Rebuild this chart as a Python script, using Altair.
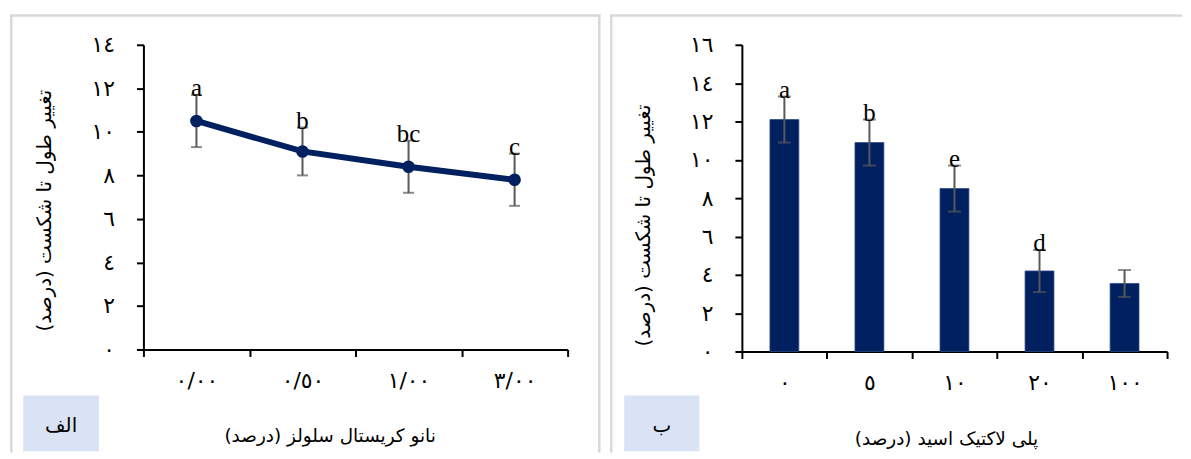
import altair as alt
import pandas as pd

# ---------------- data ----------------
LEFT_CATS = ["٠/٠٠", "٠/٥٠", "١/٠٠", "٣/٠٠"]
LEFT_VALS = [10.5, 9.1, 8.4, 7.8]
LEFT_ERR = [1.2, 1.1, 1.2, 1.2]
LEFT_LETTERS = ["a", "b", "bc", "c"]
LEFT_Y_TICKS = [0, 2, 4, 6, 8, 10, 12, 14]
LEFT_Y_LABELS = ["٠", "٢", "٤", "٦", "٨", "١٠", "١٢", "١٤"]

RIGHT_CATS = ["٠", "٥", "١٠", "٢٠", "١٠٠"]
RIGHT_VALS = [12.1, 10.9, 8.5, 4.2, 3.55]
RIGHT_ERR = [1.2, 1.2, 1.2, 1.1, 0.7]
RIGHT_LETTERS = ["a", "b", "e", "d", ""]
RIGHT_Y_TICKS = [0, 2, 4, 6, 8, 10, 12, 14, 16]
RIGHT_Y_LABELS = ["٠", "٢", "٤", "٦", "٨", "١٠", "١٢", "١٤", "١٦"]

Y_TITLE = "تغییر طول تا شکست (درصد)"
LEFT_X_TITLE = "نانو کریستال سلولز (درصد)"
RIGHT_X_TITLE = "پلی لاکتیک اسید (درصد)"
LEFT_TAG = "الف"
RIGHT_TAG = "ب"

# ---------------- styles ----------------
DARK = "#002060"
ERRC = "#595959"
FRAME = "#d9d9d9"
BOXC = "#dae3f3"
AR_FONT = "DejaVu Sans"
SERIF = "Liberation Serif"

W1, H1 = 426, 306
W2, H2 = 427, 308


def frame(df_one, x_left, x_right, y_top, y_bottom, right_line=True):
    parts = [
        alt.Chart(df_one).mark_rule(color=FRAME, strokeWidth=2.5, strokeCap="square").encode(
            x=alt.value(x_left), x2=alt.value(x_right), y=alt.value(y_top)),
        alt.Chart(df_one).mark_rule(color=FRAME, strokeWidth=2.5, strokeCap="square").encode(
            x=alt.value(x_left), y=alt.value(y_top), y2=alt.value(y_bottom)),
    ]
    if right_line:
        parts.append(
            alt.Chart(df_one).mark_rule(color=FRAME, strokeWidth=2.5, strokeCap="square").encode(
                x=alt.value(x_right), y=alt.value(y_top), y2=alt.value(y_bottom)))
    return parts


def tag(df_one, x0, x1, y0, y1, text):
    box = alt.Chart(df_one).mark_rect(color=BOXC).encode(
        x=alt.value(x0), x2=alt.value(x1), y=alt.value(y0), y2=alt.value(y1))
    txt = alt.Chart(df_one).mark_text(font=AR_FONT, fontSize=20, color="black",
                                      baseline="middle", align="center").encode(
        x=alt.value((x0 + x1) / 2), y=alt.value((y0 + y1) / 2 + 3), text=alt.value(text))
    return [box, txt]


def label_expr(ticks, labels):
    t = "[" + ",".join(str(v) for v in ticks) + "]"
    l = "[" + ",".join("'" + s + "'" for s in labels) + "]"
    return f"{l}[indexof({t}, datum.value)]"


one = pd.DataFrame({"k": [0]})

# ---------------- left panel ----------------
ldf = pd.DataFrame({
    "cat": LEFT_CATS,
    "val": LEFT_VALS,
    "lo": [v - e for v, e in zip(LEFT_VALS, LEFT_ERR)],
    "hi": [v + e for v, e in zip(LEFT_VALS, LEFT_ERR)],
    "letter": LEFT_LETTERS,
})

lx_axis = alt.Axis(title=LEFT_X_TITLE, labelAngle=0, tickBand="extent",
                   titleX=187, titleY=86, titleBaseline="middle", labelPadding=14)
lx_scale = alt.Scale(paddingInner=0, paddingOuter=0)
ly_axis = alt.Axis(title=Y_TITLE, values=LEFT_Y_TICKS, labelOverlap=False,
                   labelExpr=label_expr(LEFT_Y_TICKS, LEFT_Y_LABELS),
                   titleX=-99, titleY=166, titleBaseline="middle", labelPadding=22)
ly_scale = alt.Scale(domain=[0, 14], nice=False)


def LX():
    return alt.X("cat:N", sort=None, scale=lx_scale, axis=lx_axis)


def LY(f):
    return alt.Y(f"{f}:Q", scale=ly_scale, axis=ly_axis)


lbase = alt.Chart(ldf)
l_line = lbase.mark_line(color=DARK, strokeWidth=6).encode(x=LX(), y=LY("val"))
l_err = lbase.mark_rule(color=ERRC, strokeWidth=2).encode(x=LX(), y=LY("lo"), y2="hi:Q")
l_cap_lo = lbase.mark_tick(color=ERRC, thickness=2, size=11).encode(x=LX(), y=LY("lo"))
l_cap_hi = lbase.mark_tick(color=ERRC, thickness=2, size=11).encode(x=LX(), y=LY("hi"))
l_pts = lbase.mark_circle(color=DARK, size=160, opacity=1).encode(x=LX(), y=LY("val"))
l_txt = lbase.mark_text(font=SERIF, fontSize=25, baseline="alphabetic", dy=1.5,
                        color="black").encode(x=LX(), y=LY("hi"), text="letter:N")

left = alt.layer(
    *frame(one, -132.7, 457.8, -29.3, 408.3),
    *tag(one, -120.7, -44.7, 352.3, 408.3, LEFT_TAG),
    l_line, l_err, l_cap_lo, l_cap_hi, l_pts, l_txt,
).properties(width=W1, height=H1)

# ---------------- right panel ----------------
rdf = pd.DataFrame({
    "cat": RIGHT_CATS,
    "val": RIGHT_VALS,
    "lo": [v - e for v, e in zip(RIGHT_VALS, RIGHT_ERR)],
    "hi": [v + e for v, e in zip(RIGHT_VALS, RIGHT_ERR)],
    "letter": RIGHT_LETTERS,
})

rx_axis = alt.Axis(title=RIGHT_X_TITLE, labelAngle=0, tickBand="extent",
                   titleX=205, titleY=87, titleBaseline="middle", labelPadding=14)
rx_scale = alt.Scale(paddingInner=0, paddingOuter=0)
ry_axis = alt.Axis(title=Y_TITLE, values=RIGHT_Y_TICKS, labelOverlap=False,
                   labelExpr=label_expr(RIGHT_Y_TICKS, RIGHT_Y_LABELS),
                   titleX=-99, titleY=181, titleBaseline="middle", labelPadding=22)
ry_scale = alt.Scale(domain=[0, 16], nice=False)


def RX():
    return alt.X("cat:N", sort=None, scale=rx_scale, axis=rx_axis)


def RY(f):
    return alt.Y(f"{f}:Q", scale=ry_scale, axis=ry_axis)


rbase = alt.Chart(rdf)
r_bar = rbase.mark_bar(color=DARK, size=29, stroke="#2e4a86", strokeWidth=0.8).encode(
    x=RX(), y=alt.Y("val:Q", scale=ry_scale, axis=ry_axis, stack=None))
r_err = rbase.mark_rule(color=ERRC, strokeWidth=2).encode(x=RX(), y=RY("lo"), y2="hi:Q")
r_cap_lo = rbase.mark_tick(color=ERRC, thickness=2, size=13).encode(x=RX(), y=RY("lo"))
r_cap_hi = rbase.mark_tick(color=ERRC, thickness=2, size=13).encode(x=RX(), y=RY("hi"))
r_txt = rbase.mark_text(font=SERIF, fontSize=25, baseline="alphabetic", dy=1.5,
                        color="black").encode(x=RX(), y=RY("hi"), text="letter:N")

right = alt.layer(
    *frame(one, -131.2, 441.0, -29.3, 408.3, right_line=False),
    *tag(one, -118.2, -42.7, 352.3, 408.3, RIGHT_TAG),
    r_bar, r_err, r_cap_lo, r_cap_hi, r_txt,
).properties(width=W2, height=H2)

chart = alt.hconcat(left, right, spacing=8).properties(
    padding={"left": 1, "top": 4, "right": 0, "bottom": 0}
).configure_view(stroke=None).configure_axis(
    grid=False,
    domainColor="black", domainWidth=2,
    tickColor="black", tickWidth=2, tickSize=7,
    labelFont=AR_FONT, labelFontSize=22, labelColor="black",
    titleFont=AR_FONT, titleFontWeight="normal", titleColor="black",
).configure_axisX(titleFontSize=18.5).configure_axisY(titleFontSize=20)

chart.save("out.html", embed_options={"renderer": "svg", "actions": False})
